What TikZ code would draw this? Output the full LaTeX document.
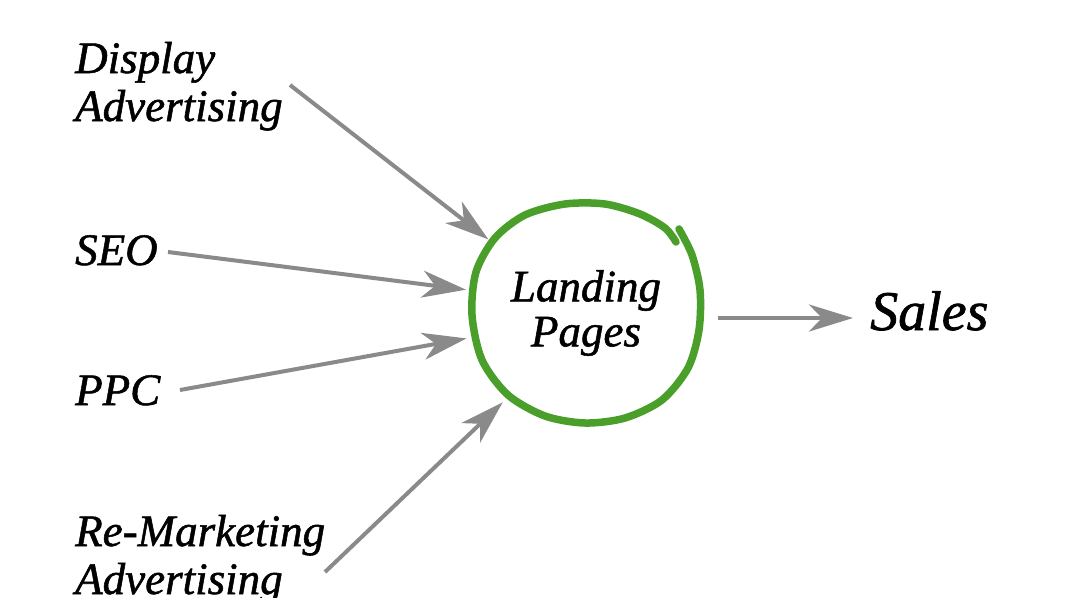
\documentclass[tikz,border=0pt]{standalone}
\usepackage{fontspec}
\setmainfont{Liberation Serif}[ItalicFeatures={FakeBold=1.2}]
\usepackage{tikz}
\usetikzlibrary{arrows.meta,calc}
\definecolor{brush}{HTML}{4A9F2A}
\definecolor{pointer}{HTML}{8A8A8A}

\begin{document}
\begin{tikzpicture}[x=1pt,y=-1pt,
  lbl/.style={anchor=base west,inner sep=0pt,align=left,font=\fontsize{45}{48}\selectfont\itshape},
  flow/.style={pointer,line width=4pt,-{Stealth[length=44pt,width=27pt,inset=13pt]}}]
  \useasboundingbox (0,0) rectangle (1083,597);
  % sources
  \node[lbl] (display) at (75,121) {Display\\Advertising};
  \node[lbl] (seo) at (75,265) {SEO};
  \node[lbl] (ppc) at (75,405) {PPC};
  \node[lbl] (remark) at (75,594) {Re-Marketing\\Advertising};
  % hub and target
  \node[circle,minimum size=244pt,inner sep=0pt,align=center,
        font=\fontsize{45}{45}\selectfont\itshape] (landing) at (586,313) {Landing\\Pages};
  \node[lbl,font=\fontsize{56}{56}\selectfont\itshape] (sales) at (870,330) {Sales};
  % hand-drawn ring
  \draw[brush,line width=7.5pt,line cap=round] plot[smooth] coordinates {
    (679,229) (692,255) (700,290) (699,330) (688,368) (662,400) (625,418)
    (585,423) (545,416) (508,395) (482,360) (472,315) (476,272) (495,238)
    (525,215) (565,204) (605,204) (640,214) (665,228) (676,242)};
  \coordinate (display-tail) at (290,85);
  \coordinate (seo-tail) at (168,252);
  \coordinate (ppc-tail) at (180,390);
  \coordinate (remark-tail) at (325,572);
  \coordinate (sales-tail) at (718,318);
  \foreach \src/\ang in {display/143.3,seo/169.5,ppc/192.2,remark/227.3}
    {\draw[flow] (\src-tail) -- (landing.\ang);}
  \draw[flow,shorten >=17pt] (sales-tail) -- (sales-tail -| sales.west);
\end{tikzpicture}
\end{document}
